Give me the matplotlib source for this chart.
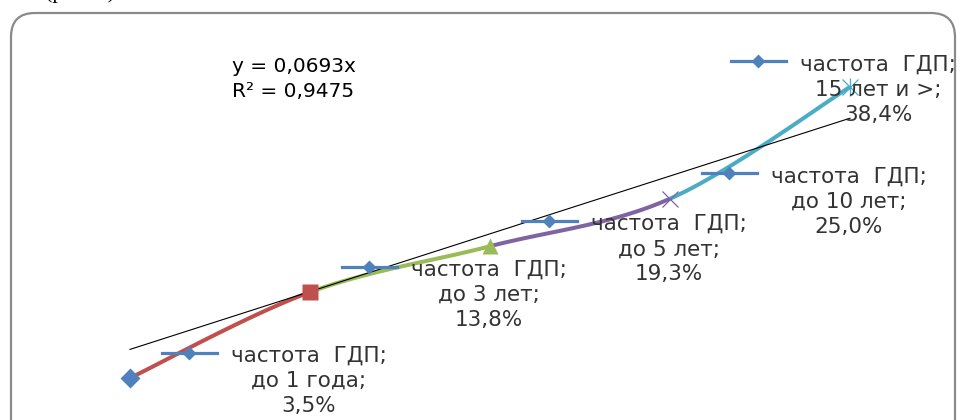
import matplotlib
matplotlib.use("Agg")
import matplotlib.pyplot as plt
import numpy as np
from matplotlib.patches import FancyBboxPatch
from matplotlib.lines import Line2D
from matplotlib.transforms import IdentityTransform

# stage index and GDP frequency (fraction)
stage_x = [1, 2, 3, 4, 5]
freq = [0.035, 0.138, 0.193, 0.250, 0.384]
stage_names = ["до 1 года;", "до 3 лет;", "до 5 лет;", "до 10 лет;", "15 лет и >;"]
value_labels = ["3,5%", "13,8%", "19,3%", "25,0%", "38,4%"]
series_name = "частота  ГДП;"

# linear trend through the origin
trend_slope = 0.0693
trend_r2 = 0.9475

BLUE = "#4F81BD"
point_colors = [BLUE, "#C0504D", "#9BBB59", "#8064A2", "#4BACC6"]
TEXT = "#333333"

DPI = 100
W, H = 960, 420

plt.rcParams['font.family'] = ['DejaVu Sans']

fig = plt.figure(figsize=(W / DPI, H / DPI), dpi=DPI)
ax = fig.add_axes([0, 0, 1, 1])
ax.axis('off')
ax.set_xlim(1 - 130 / 180, 1 + 830 / 180)
ax.set_ylim((407.2 - 420) / 834, 407.2 / 834)

# smoothed line, Catmull-Rom style bezier computed in screen space
pts = ax.transData.transform(np.column_stack([stage_x, freq]))
n = len(pts)
t = np.linspace(0, 1, 60)[:, None]
for i in range(n - 1):
    p0 = pts[max(i - 1, 0)]
    p1 = pts[i]
    p2 = pts[i + 1]
    p3 = pts[min(i + 2, n - 1)]
    c1 = p1 + (p2 - p0) / 6
    c2 = p2 - (p3 - p1) / 6
    seg = ((1 - t) ** 3 * p1 + 3 * (1 - t) ** 2 * t * c1
           + 3 * (1 - t) * t ** 2 * c2 + t ** 3 * p2)
    seg = ax.transData.inverted().transform(seg)
    ax.plot(seg[:, 0], seg[:, 1], color=point_colors[i + 1], lw=2.9,
            solid_capstyle='butt', zorder=2)

# point markers
ax.plot(stage_x[0], freq[0], 'D', color=point_colors[0], ms=10.5, mec='none', zorder=4)
ax.plot(stage_x[1], freq[1], 's', color=point_colors[1], ms=11, mec='none', zorder=4)
ax.plot(stage_x[2], freq[2], '^', color=point_colors[2], ms=12, mec='none', zorder=4)
ax.plot(stage_x[3], freq[3], 'x', color=point_colors[3], ms=12, mew=0.9, zorder=4)
ax.plot(stage_x[4], freq[4], 'x', color=point_colors[4], ms=11, mew=0.9, zorder=4)
ax.plot(stage_x[4], freq[4], '|', color=point_colors[4], ms=13, mew=0.9, zorder=4)

# trendline and its equation
tx = np.array([stage_x[0], stage_x[-1]])
ax.plot(tx, trend_slope * tx, color='black', lw=0.8, zorder=3)
eq_x = 1 + (232 - 130) / 180
ax.text(eq_x, (407.2 - 72) / 834, f"y = {trend_slope:.4f}x".replace('.', ','),
        fontsize=14.5, color='black', va='baseline', ha='left')
ax.text(eq_x, (407.2 - 97) / 834, f"R² = {trend_r2:.4f}".replace('.', ','),
        fontsize=14.5, color='black', va='baseline', ha='left')

# data labels with legend keys
label_dx = [179, 179, 179, 179, 28]
line_dy = [16.5, -9, -34]
for i in range(n):
    dx = label_dx[i]
    lines = [series_name, stage_names[i], value_labels[i]]
    for txt, dy in zip(lines, line_dy):
        ax.annotate(txt, (stage_x[i], freq[i]), xytext=(dx, dy),
                    textcoords='offset pixels', ha='center', va='baseline',
                    fontsize=15.5, color=TEXT, zorder=5)
    px, py = pts[i]
    ky = py + 25.5
    fig.add_artist(Line2D([px + dx - 147, px + dx - 92], [ky, ky],
                          transform=IdentityTransform(), color=BLUE, lw=2.3,
                          zorder=6))
    fig.add_artist(Line2D([px + dx - 120], [ky], transform=IdentityTransform(),
                          marker='D', ms=7, color=BLUE, mec='none', zorder=6))

# chart frame
frame = FancyBboxPatch((11, -40), 944, 447, boxstyle="round,pad=0,rounding_size=24",
                       transform=IdentityTransform(), fill=False,
                       edgecolor='#8a8a8a', lw=1.6, zorder=10)
fig.add_artist(frame)

fig.text(45 / W, 1 + 2 / H, "(рис. 1)", fontsize=16, family='Liberation Serif',
         va='baseline', ha='left', color='black')

fig.savefig("out.png", dpi=DPI)
